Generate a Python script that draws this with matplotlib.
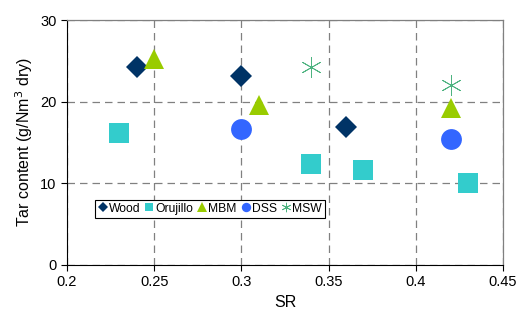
import matplotlib.pyplot as plt

plt.rcParams['font.family'] = ['Liberation Sans', 'DejaVu Sans']

# data
wood_sr = [0.24, 0.30, 0.36]
wood_tar = [24.3, 23.2, 16.9]
oru_sr = [0.23, 0.34, 0.37, 0.43]
oru_tar = [16.2, 12.4, 11.6, 10.0]
mbm_sr = [0.25, 0.31, 0.42]
mbm_tar = [25.2, 19.6, 19.2]
dss_sr = [0.30, 0.42]
dss_tar = [16.7, 15.4]
msw_sr = [0.34, 0.42]
msw_tar = [24.3, 22.1]

x_ticks = [0.2, 0.25, 0.3, 0.35, 0.4, 0.45]
y_ticks = [0, 10, 20, 30]

fig = plt.figure(figsize=(5.21, 3.29), dpi=100)
ax = fig.add_axes([67 / 521, 1 - 265 / 329, 436 / 521, 245 / 329])

ax.plot(wood_sr, wood_tar, 'D', color='#003366', ms=11.5, label='Wood', mew=0)
ax.plot(oru_sr, oru_tar, 's', color='#33CCCC', ms=14, label='Orujillo', mew=0)
ax.plot(mbm_sr, mbm_tar, '^', color='#99CC00', ms=15, label='MBM', mew=0)
ax.plot(dss_sr, dss_tar, 'o', color='#3366FF', ms=15, label='DSS', mew=0)
ax.plot(msw_sr, msw_tar, marker=(6, 2, 0), ls='none', color='#4DB380', ms=15,
        mew=0.6, label='MSW')

ax.set_xlim(0.2, 0.45)
ax.set_ylim(0, 30)
ax.set_xticks(x_ticks)
ax.set_xticklabels([str(t) for t in x_ticks])
ax.set_yticks(y_ticks)
ax.tick_params(labelsize=10.5, direction='out', length=4, color='black')
ax.grid(True, color='#808080', linestyle=(0, (6, 4)), linewidth=0.9)
ax.set_axisbelow(True)

for s in ['top', 'right']:
    ax.spines[s].set_color('#808080')
    ax.spines[s].set_linewidth(0.9)

ax.set_xlabel('SR', fontsize=11.5)
ax.set_ylabel('Tar content (g/Nm$^3$ dry)', fontsize=11.5)

leg = ax.legend(loc='center left', bbox_to_anchor=(0.065, 0.23), ncol=5,
                fontsize=8.7, markerscale=0.45, handlelength=0.7,
                handletextpad=0.15, columnspacing=0.4, borderpad=0.25,
                fancybox=False, framealpha=1, borderaxespad=0)
leg.get_frame().set_edgecolor('black')
leg.get_frame().set_linewidth(0.8)

fig.savefig('out.png', dpi=100)
